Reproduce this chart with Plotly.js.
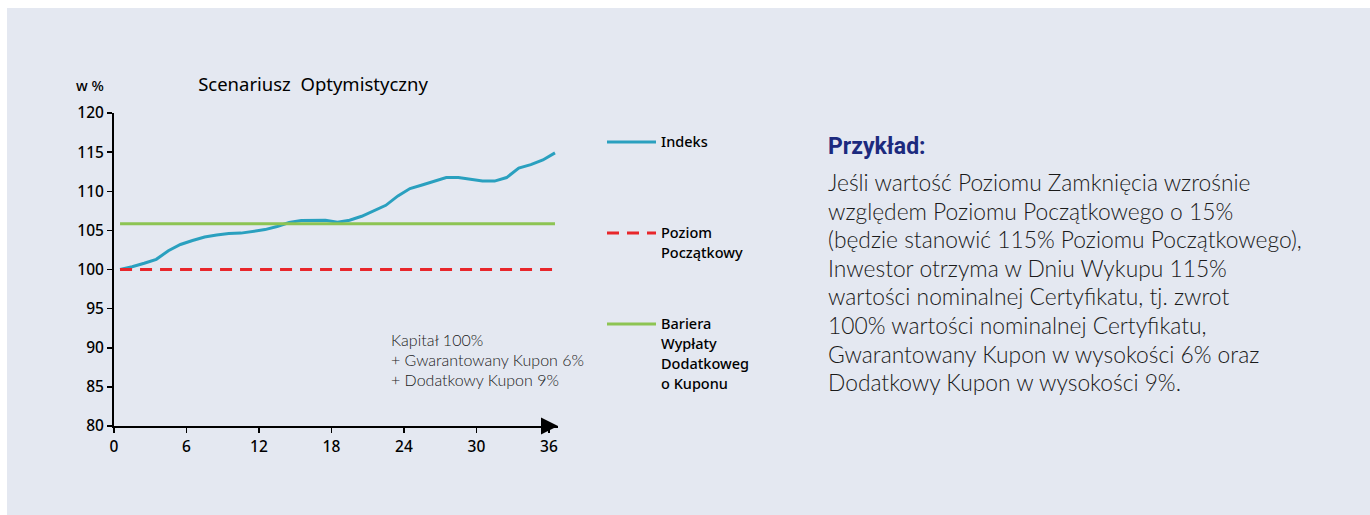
<!DOCTYPE html>
<html><head><meta charset="utf-8">
<script src="https://cdn.plot.ly/plotly-3.0.1.min.js"></script>
<style>html,body{margin:0;padding:0;background:#fff;}#chart{width:1370px;height:515px;}</style>
</head><body><div id="chart"></div>
<script>
// ---- data ----
const months = [0,1,2,3,4,5,6,7,8,9,10,11,12,13,14,15,16,17,18,19,20,21,22,23,24,25,26,27,28,29,30,31,32,33,34,35,36];
const indeks = [100.0,100.35,100.8,101.3,102.4,103.2,103.7,104.15,104.4,104.6,104.65,104.85,105.1,105.5,106.0,106.25,106.3,106.3,106.05,106.3,106.8,107.5,108.2,109.4,110.35,110.8,111.3,111.75,111.75,111.55,111.3,111.3,111.75,112.95,113.4,114.0,114.9];
const levelMonths = [0, 36];
const initialLevel = [100, 100];
const barrierLevel = [105.85, 105.85];
const xTickLabels = [0, 6, 12, 18, 24, 30, 36];
const yTickLabels = [80, 85, 90, 95, 100, 105, 110, 115, 120];
const seriesNames = ['Indeks', 'Poziom Początkowy', 'Bariera Wypłaty Dodatkowego Kuponu'];
const legendLines = [['Indeks'], ['Poziom', 'Początkowy'], ['Bariera', 'Wypłaty', 'Dodatkoweg', 'o Kuponu']];
const chartTitle = 'Scenariusz\u00a0 Optymistyczny';
const unitLabel = 'w %';
const noteLines = ['Kapitał 100%', '+ Gwarantowany Kupon 6%', '+ Dodatkowy Kupon 9%'];
const exampleTitle = 'Przykład:';
const exampleLines = [
  'Jeśli wartość Poziomu Zamknięcia wzrośnie',
  'względem Poziomu Początkowego o 15%',
  '(będzie stanowić 115% Poziomu Początkowego),',
  'Inwestor otrzyma w Dniu Wykupu 115%',
  'wartości nominalnej Certyfikatu, tj. zwrot',
  '100% wartości nominalnej Certyfikatu,',
  'Gwarantowany Kupon w wysokości 6% oraz',
  'Dodatkowy Kupon w wysokości 9%.'
];

// ---- styling / geometry ----
const W = 1370, H = 515;
const L = 114, R = 558, T = 113, B = 426;
const px2x = p => (p - L) / (R - L);
const py2y = p => (B - p) / (B - T);
const colors = ['#2aa0bf', '#e8262b', '#8dc453'];
const dashPat = '12px,8px';
const tickFont = {family: '"Noto Sans", sans-serif', size: 15.5, color: '#000', weight: 500};
const labelFont = {family: '"Noto Sans", sans-serif', size: 14.5, color: '#000', weight: 500};
const lightFont = (size, color) => ({family: 'Lato, Roboto, sans-serif', size: size, color: color || '#1a1a1a', weight: 300});

const traces = [
  {x: months, y: indeks, name: seriesNames[0], type: 'scatter', mode: 'lines',
   line: {color: colors[0], width: 3}},
  {x: levelMonths, y: initialLevel, name: seriesNames[1], type: 'scatter', mode: 'lines',
   line: {color: colors[1], width: 3, dash: dashPat}},
  {x: levelMonths, y: barrierLevel, name: seriesNames[2], type: 'scatter', mode: 'lines',
   line: {color: colors[2], width: 3}}
];

const annotations = [];
const shapes = [];
// background panel
shapes.push({type: 'rect', xref: 'paper', yref: 'paper', layer: 'below',
  x0: px2x(7), x1: px2x(W + 5), y0: py2y(8), y1: py2y(H + 5),
  fillcolor: '#e4e8f1', line: {width: 0}});

// x-axis arrow head
annotations.push({x: 36.25, y: 80, xref: 'x', yref: 'y', ax: 35.2, ay: 80, axref: 'x', ayref: 'y',
  showarrow: true, arrowhead: 2, arrowsize: 1.7, arrowwidth: 2, arrowcolor: '#000', text: '', standoff: 0});

// unit label
annotations.push({xref: 'paper', yref: 'paper', x: px2x(90), y: py2y(85), xanchor: 'center', yanchor: 'middle',
  text: unitLabel, showarrow: false, font: labelFont});

// legend (manual, placed like the original)
const legendY = [[141], [232, 252], [323, 343, 363, 383]];
legendLines.forEach((lines, i) => {
  const y0 = legendY[i][0] + 1;
  shapes.push({type: 'line', xref: 'paper', yref: 'paper', x0: px2x(607), x1: px2x(656), y0: py2y(y0), y1: py2y(y0),
    line: {color: colors[i], width: 3, dash: i === 1 ? dashPat : 'solid'}});
  lines.forEach((t, j) => {
    annotations.push({xref: 'paper', yref: 'paper', x: px2x(659), y: py2y(legendY[i][j]), xanchor: 'left', yanchor: 'middle',
      text: t, showarrow: false, font: labelFont});
  });
});

// note in plot
noteLines.forEach((t, j) => {
  annotations.push({xref: 'paper', yref: 'paper', x: px2x(389), y: py2y(339 + 20 * j), xanchor: 'left', yanchor: 'middle',
    text: t, showarrow: false, font: lightFont(16)});
});

// example text block
annotations.push({xref: 'paper', yref: 'paper', x: px2x(826), y: py2y(146), xanchor: 'left', yanchor: 'middle',
  text: '<b>' + exampleTitle + '</b>', showarrow: false,
  font: {family: 'Roboto, sans-serif', size: 23, color: '#1c2a7e', weight: 900}});
exampleLines.forEach((t, j) => {
  annotations.push({xref: 'paper', yref: 'paper', x: px2x(826), y: py2y(182 + 28.6 * j), xanchor: 'left', yanchor: 'middle',
    text: t, showarrow: false, font: lightFont(22.8)});
});

const layout = {
  width: W, height: H,
  margin: {l: L, r: W - R, t: T, b: H - B, pad: 0},
  paper_bgcolor: '#ffffff', plot_bgcolor: 'rgba(0,0,0,0)',
  showlegend: false,
  title: {text: chartTitle, x: 313 / W, xanchor: 'center', y: 1 - 85 / H, yanchor: 'middle',
    font: {family: '"Noto Sans", sans-serif', size: 18.5, color: '#000'}},
  xaxis: {range: [-0.5, 36.25], tickvals: xTickLabels.map(v => v - 0.5), ticktext: xTickLabels.map(String),
    showgrid: false, zeroline: false, showline: true, linecolor: '#000', linewidth: 2,
    ticks: 'outside', ticklen: 5, tickwidth: 1.5, tickcolor: '#000', tickfont: tickFont, fixedrange: true},
  yaxis: {range: [80, 120], tickvals: yTickLabels, showgrid: false, zeroline: false, showline: true,
    linecolor: '#000', linewidth: 2, ticks: 'outside', ticklen: 5, tickwidth: 1.5, tickcolor: '#000',
    tickfont: tickFont, fixedrange: true},
  shapes: shapes,
  annotations: annotations
};

Plotly.newPlot('chart', traces, layout, {displayModeBar: false, staticPlot: true});
</script>
</body></html>
